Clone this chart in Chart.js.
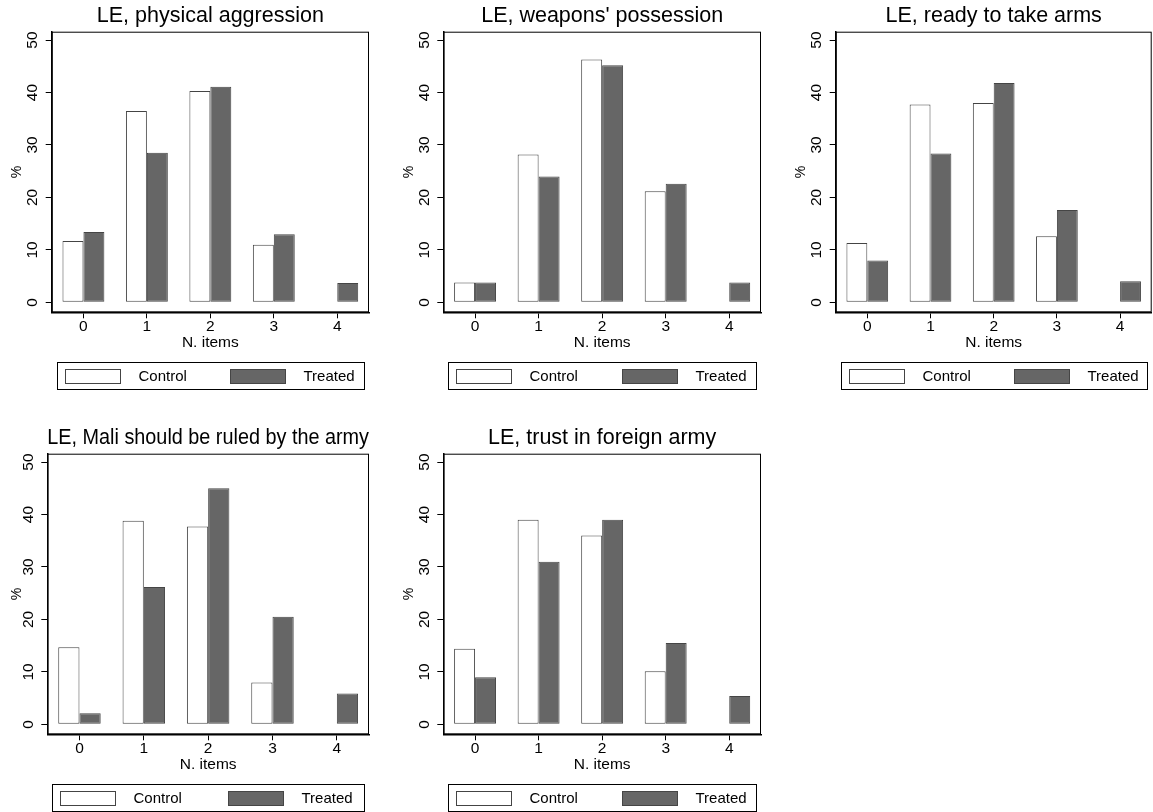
<!DOCTYPE html>
<html>
<head>
<meta charset="utf-8">
<script src="https://cdn.jsdelivr.net/npm/chart.js@4.4.1/dist/chart.umd.min.js"></script>
<style>
  html, body { margin: 0; padding: 0; background: #fff; overflow: hidden; }
  body { width: 1153px; height: 812px; position: relative; }
  canvas { position: absolute; }
</style>
</head>
<body>
<canvas id="aggressionChart" width="384" height="400" style="left:0px;top:0px"></canvas>
<canvas id="weaponsChart" width="384" height="400" style="left:392px;top:0px"></canvas>
<canvas id="armsChart" width="369" height="400" style="left:784px;top:0px"></canvas>
<canvas id="armyRuleChart" width="384" height="400" style="left:0px;top:422px"></canvas>
<canvas id="foreignArmyChart" width="384" height="400" style="left:392px;top:422px"></canvas>
<script>
// values (% of respondents per number of items)
const nItems = ["0", "1", "2", "3", "4"];
const yTicks = [0, 10, 20, 30, 40, 50];
const seriesNames = ["Control", "Treated"];

const aggressionControl = [11.7, 36.5, 40.3, 11.0, null];
const aggressionTreated = [13.4, 28.5, 41.1, 13.0, 3.7];

const weaponsControl = [3.8, 28.2, 46.3, 21.2, null];
const weaponsTreated = [3.8, 24.0, 45.2, 22.6, 3.8];

const armsControl = [11.3, 37.7, 38.0, 12.6, null];
const armsTreated = [8.0, 28.4, 41.8, 17.6, 4.0];

const armyRuleControl = [14.7, 38.8, 37.7, 8.0, null];
const armyRuleTreated = [2.1, 26.2, 45.0, 20.5, 5.9];

const foreignArmyControl = [14.4, 39.0, 36.0, 10.1, null];
const foreignArmyTreated = [9.0, 31.0, 39.0, 15.5, 5.4];

Chart.defaults.font.family = '"Liberation Sans", Arial, sans-serif';
Chart.defaults.color = "#000";

// thin frame around the plot region (Stata style)
const plotFrame = {
  id: "plotFrame",
  beforeDatasetsDraw(chart) {
    const { ctx, chartArea: a } = chart;
    ctx.save();
    ctx.strokeStyle = "#000";
    ctx.lineWidth = 1;
    ctx.strokeRect(a.left + 0.5, a.top + 0.5, a.width - 1, a.height - 1);
    ctx.restore();
  },
};

// legend inside a box, under the x axis
const boxedLegend = {
  id: "boxedLegend",
  afterDraw(chart) {
    const { ctx, chartArea: a } = chart;
    const w = Math.round(a.width - 10);
    const left = Math.round((a.left + a.right) / 2 - w / 2) + 0.5;
    const top = Math.round(a.bottom + 50) + 0.5;
    const h = 27;
    const midY = top + h / 2;
    ctx.save();
    ctx.lineWidth = 1;
    ctx.strokeStyle = "#000";
    ctx.strokeRect(left, top, w, h);
    ctx.font = '15px "Liberation Sans", Arial, sans-serif';
    ctx.textBaseline = "middle";
    ctx.textAlign = "left";
    chart.data.datasets.forEach((ds, i) => {
      const sx = Math.round(left + 7 + i * (w / 2 + 12)) + 0.5;
      ctx.fillStyle = ds.backgroundColor;
      ctx.fillRect(sx, Math.round(midY - 7), 55, 14);
      ctx.strokeStyle = ds.borderColor;
      ctx.strokeRect(sx, Math.round(midY - 7) + 0.5, 55, 14);
      ctx.fillStyle = "#000";
      ctx.fillText(ds.label, sx + 55 + 18, midY + 1);
    });
    ctx.restore();
  },
};

const makePanel = (canvasId, titleText, controlData, treatedData, plotLeft, rightPad) => {
  const ctx = document.getElementById(canvasId).getContext("2d");
  return new Chart(ctx, {
    type: "bar",
    data: {
      labels: nItems,
      datasets: [
        {
          label: seriesNames[0],
          data: controlData,
          backgroundColor: "#ffffff",
          borderColor: "#444444",
          borderWidth: 1,
          borderSkipped: false,
          categoryPercentage: 0.66,
          barPercentage: 1.0,
        },
        {
          label: seriesNames[1],
          data: treatedData,
          backgroundColor: "#666666",
          borderColor: "#454545",
          borderWidth: 1,
          borderSkipped: false,
          categoryPercentage: 0.66,
          barPercentage: 1.0,
        },
      ],
    },
    options: {
      responsive: false,
      animation: false,
      events: [],
      layout: {
        padding: { left: 0, right: rightPad, top: 0, bottom: 42.7 },
      },
      plugins: {
        legend: { display: false },
        tooltip: { enabled: false },
        title: {
          display: true,
          text: titleText,
          fullSize: false,
          color: "#000",
          font: { size: 21.5, weight: "normal", lineHeight: 1.2 },
          padding: { top: 3.5, bottom: 2.4 },
        },
      },
      scales: {
        x: {
          type: "category",
          offset: true,
          grid: {
            display: true,
            drawOnChartArea: false,
            drawTicks: true,
            tickLength: 6,
            color: "#000",
            offset: false,
          },
          border: { display: true, color: "#000", width: 1.5 },
          ticks: { font: { size: 15.5, lineHeight: 1.1 }, color: "#000", padding: 0 },
          title: {
            display: true,
            text: "N. items",
            color: "#000",
            font: { size: 15.5 },
            padding: { top: 0, bottom: 5 },
          },
          afterFit: (scale) => {
            scale.height = 45;
          },
        },
        y: {
          type: "linear",
          min: -1.9,
          max: 51.6,
          afterBuildTicks: (scale) => {
            scale.ticks = yTicks.map((v) => ({ value: v }));
          },
          grid: {
            display: true,
            drawOnChartArea: false,
            drawTicks: true,
            tickLength: 6,
            color: "#000",
          },
          border: { display: true, color: "#000", width: 1.5 },
          ticks: {
            minRotation: 90,
            maxRotation: 90,
            crossAlign: "center",
            padding: 4,
            color: "#000",
            font: { size: 15.5 },
          },
          title: {
            display: true,
            text: "%",
            color: "#000",
            font: { size: 14 },
            padding: { top: 9, bottom: 0 },
          },
          afterFit: (scale) => {
            scale.width = plotLeft;
          },
        },
      },
    },
    plugins: [plotFrame, boxedLegend],
  });
};

let aggressionChart = makePanel("aggressionChart", "LE, physical aggression", aggressionControl, aggressionTreated, 51.7, 15);
let weaponsChart = makePanel("weaponsChart", "LE, weapons' possession", weaponsControl, weaponsTreated, 51.3, 15);
let armsChart = makePanel("armsChart", "LE, ready to take arms", armsControl, armsTreated, 51.7, 1.3);
let armyRuleChart = makePanel("armyRuleChart", "LE, Mali should be ruled by the army", armyRuleControl, armyRuleTreated, 47.3, 15);
let foreignArmyChart = makePanel("foreignArmyChart", "LE, trust in foreign army", foreignArmyControl, foreignArmyTreated, 51.3, 15);
</script>
</body>
</html>
